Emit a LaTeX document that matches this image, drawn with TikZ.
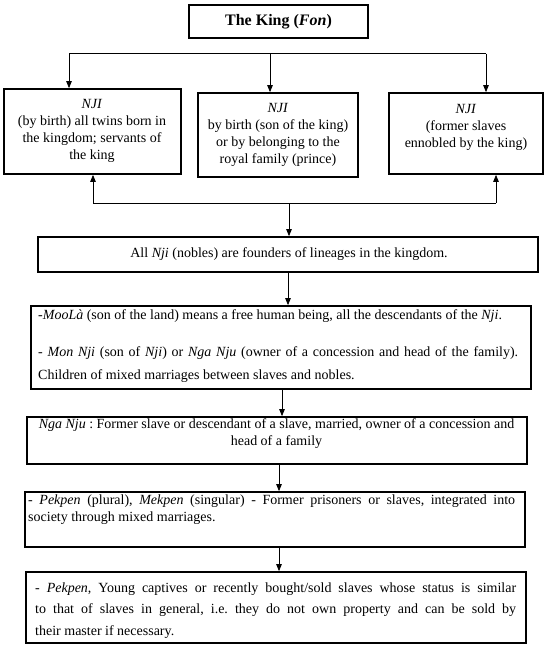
\documentclass[tikz,border=0pt]{standalone}
\usepackage{fontspec}
\setmainfont{Liberation Serif}
\usetikzlibrary{arrows.meta}
\begin{document}
\frenchspacing
\begin{tikzpicture}[x=1pt,y=-1pt,
  box/.style={draw=black, line width=1.7pt, inner sep=0pt, rectangle},
  txt/.style={inner sep=0pt, font=\fontsize{14}{17}\selectfont},
  arr/.style={line width=0.8pt, -{Triangle[length=7pt,width=5.5pt]}},
  conn/.style={line width=0.8pt}]
\useasboundingbox (0,0) rectangle (550,648);
% boxes
\node[box, minimum width=179pt, minimum height=33pt] (king) at (278.5,21.5) {};
\node[box, minimum width=177pt, minimum height=85pt] (A) at (92.5,131.5) {};
\node[box, minimum width=160pt, minimum height=84pt] (B) at (278,135) {};
\node[box, minimum width=154pt, minimum height=81pt] (C) at (466,133.5) {};
\node[box, minimum width=500pt, minimum height=35pt] (D) at (288,254.5) {};
\node[box, minimum width=500pt, minimum height=83pt] (E) at (281,347.5) {};
\node[box, minimum width=500pt, minimum height=47pt] (F) at (277,440.5) {};
\node[box, minimum width=500pt, minimum height=55pt] (G) at (275,519.5) {};
\node[box, minimum width=500pt, minimum height=71pt] (H) at (276,607.5) {};
% texts
\node[txt, font=\fontsize{16}{19}\selectfont\bfseries] (kingt) at (king.center) {The King (\textit{Fon})};
\node[txt, align=center] (At) at (92,131) {\textit{NJI}\\(by birth) all twins born in\\the kingdom; servants of\\the king};
\node[txt, align=center] (Bt) at (278,134.5) {\textit{NJI}\\by birth (son of the king)\\or by belonging to the\\royal family (prince)};
\node[txt, align=center] (Ct) at (466,127) {\textit{NJI}\\(former slaves\\ennobled by the king)};
\node[txt] (Dt) at (289,254.5) {All \textit{Nji} (nobles) are founders of lineages in the kingdom.};
\node[txt, anchor=north west, text width=480pt, align=justify, font=\fontsize{14}{23}\selectfont] (Et) at (38,309.5)
  {-\textit{MooLà} (son of the land) means a free human being, all the descendants of the \textit{Nji}.\par\vspace{14pt}
   - \textit{Mon Nji} (son of \textit{Nji}) or \textit{Nga Nju} (owner of a concession and head of the family).\linebreak
   Children of mixed marriages between slaves and nobles.};
\node[txt, anchor=north, align=center] (Ft) at (276.5,418.5)
  {\textit{Nga Nju} : Former slave or descendant of a slave, married, owner of a concession and\\head of a family};
\node[txt, anchor=north west, text width=487pt, align=justify] (Gt) at (28,495)
  {- \textit{Pekpen} (plural), \textit{Mekpen} (singular) - Former prisoners or slaves, integrated into\linebreak
   society through mixed marriages.};
\node[txt, anchor=north west, text width=481pt, align=justify, font=\fontsize{14}{21.5}\selectfont] (Ht) at (35,582.5)
  {- \textit{Pekpen}, Young captives or recently bought/sold slaves whose status is similar\linebreak
   to that of slaves in general, i.e. they do not own property and can be sold by\linebreak
   their master if necessary.};
% top distribution bar
\coordinate (tL) at (69,53.5);
\coordinate (tM) at (270,53.5);
\coordinate (tR) at (486,53.5);
\draw[conn] (tL) -- (tR);
\draw[arr] (tL) -- (tL |- A.north);
\draw[arr] (tM) -- (tM |- B.north);
\draw[arr] (tR) -- (tR |- C.north);
% bottom gathering bar
\coordinate (bL) at (93,203);
\coordinate (bM) at (289,203);
\coordinate (bR) at (496,203);
\draw[conn] (bL) -- (bR);
\draw[arr] (bL) -- (bL |- A.south);
\draw[arr] (bR) -- (bR |- C.south);
\draw[arr] (bM) -- (bM |- D.north);
% chain
\coordinate (c1) at (288,0);
\coordinate (c2) at (282,0);
\coordinate (c3) at (279,0);
\draw[arr] (c1 |- D.south) -- (c1 |- E.north);
\draw[arr] (c2 |- E.south) -- (c2 |- F.north);
\draw[arr] (c3 |- F.south) -- (c3 |- G.north);
\draw[arr] (c3 |- G.south) -- (c3 |- H.north);
\end{tikzpicture}
\end{document}
